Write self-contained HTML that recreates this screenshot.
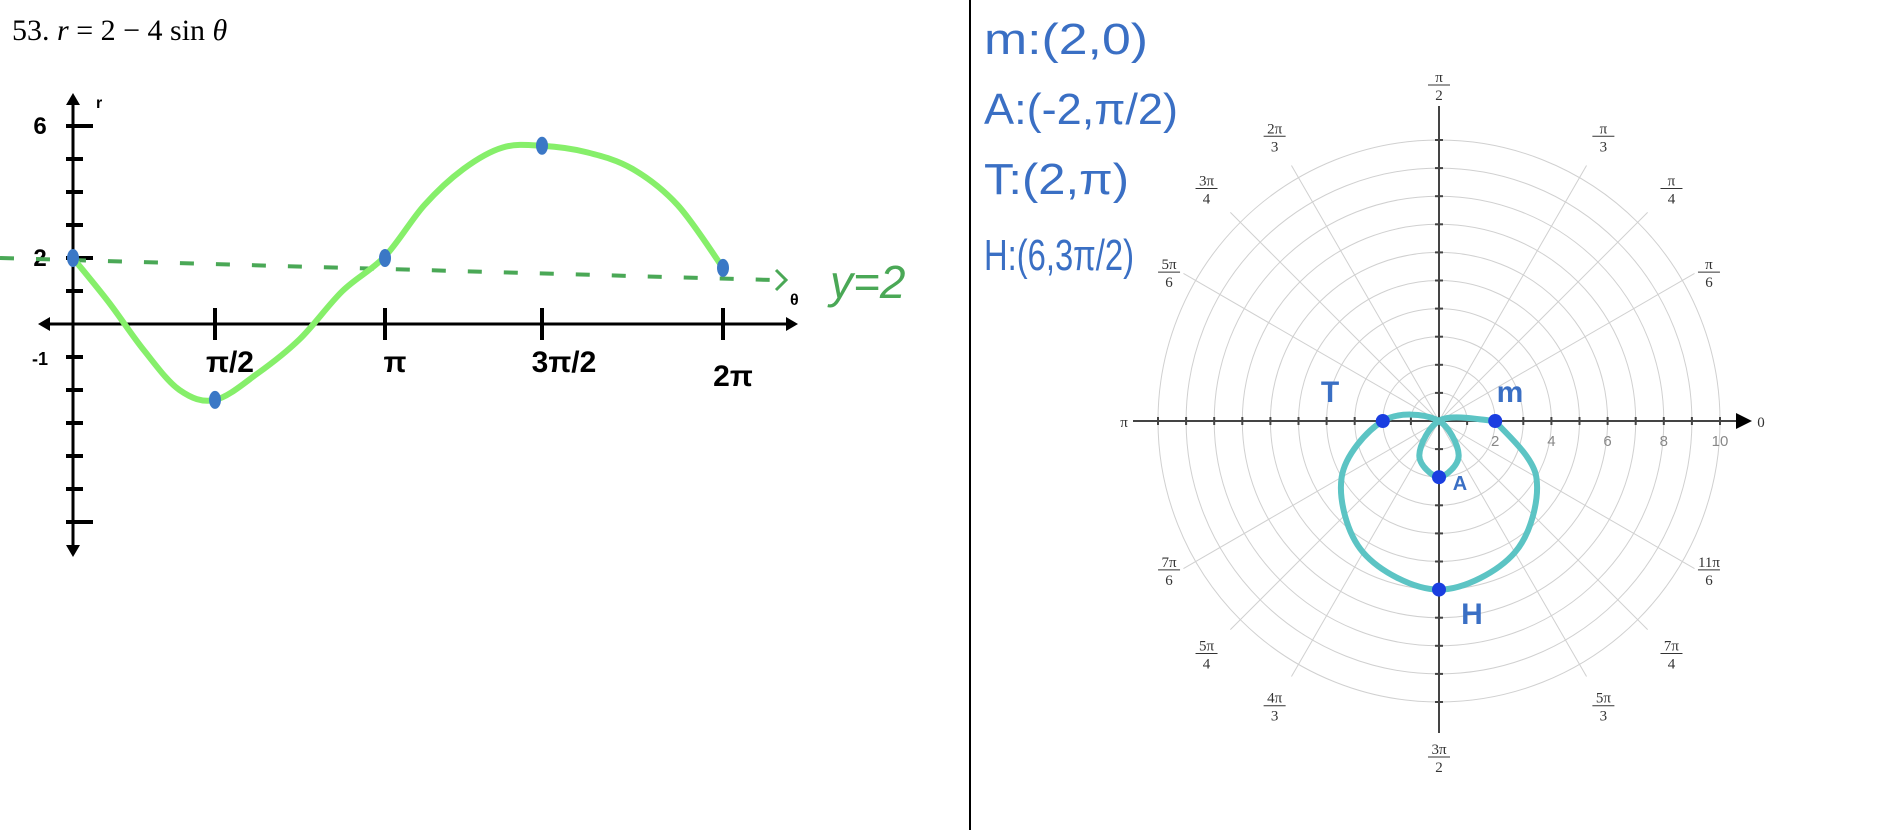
<!DOCTYPE html>
<html><head><meta charset="utf-8"><style>
html,body{margin:0;padding:0;background:#fff;}
svg{display:block;}
.hw{font-family:"Liberation Sans",sans-serif;font-weight:bold;}
.frac{font-family:"Liberation Serif",serif;font-size:15px;fill:#333;text-anchor:middle;}
</style></head><body>
<svg id="s" width="1896" height="830" viewBox="0 0 1896 830">
<g id="left"></g>
<g id="right"></g>
<line x1="970" y1="0" x2="970" y2="830" stroke="#000" stroke-width="2"/>
</svg>
<script>
// ---- Cartesian data (theta in units of pi) ----
const cartTheta = [0,0.125,0.25,0.375,0.5,0.625,0.75,0.875,1,1.125,1.25,1.375,1.5,1.625,1.75,1.875,2];
const cartR = [2,0.67,-0.8,-2.0,-2.3,-1.5,-0.45,1.0,2.05,3.6,4.7,5.35,5.4,5.2,4.7,3.6,1.7];
const keyTheta = [0,0.5,1,1.5,2];
const keyR = [2,-2.3,2,5.4,1.7];
const xTickVals = [0.5,1,1.5,2];
const xTickLabels = ["π/2","π","3π/2","2π"];
const yTickVals = [-6,-5,-4,-3,-2,-1,1,2,3,4,5,6];
// ---- Polar data (theta in units of pi) ----
const polTheta = [0,1/6,1/3,1/2,2/3,5/6,1,7/6,4/3,3/2,5/3,11/6,2];
const polR = [2,0.1,-1.4,-2,-1.4,0.1,2,4,5.4,6,5.4,4,2];
const polPointTheta = [0,0.5,1,1.5];
const polPointR = [2,-2,2,6];
const polPointNames = ["m","A","T","H"];
const spokeAngles = [1/6,1/4,1/3,2/3,3/4,5/6,7/6,5/4,4/3,5/3,7/4,11/6];
const spokeNum = ["π","π","π","2π","3π","5π","7π","5π","4π","5π","7π","11π"];
const spokeDen = ["6","4","3","3","4","6","6","4","3","3","4","6"];
const ringVals = [1,2,3,4,5,6,7,8,9,10];
const radialLabels = [2,4,6,8,10];

const NS="http://www.w3.org/2000/svg";
function mk(parent,tag,attrs,text){const e=document.createElementNS(NS,tag);for(const k in attrs)e.setAttribute(k,attrs[k]);if(text!==undefined)e.textContent=text;parent.appendChild(e);return e;}
function smooth(pts){let d="M"+pts[0][0]+","+pts[0][1];for(let i=0;i<pts.length-1;i++){const p0=pts[Math.max(i-1,0)],p1=pts[i],p2=pts[i+1],p3=pts[Math.min(i+2,pts.length-1)];d+=" C"+(p1[0]+(p2[0]-p0[0])/6)+","+(p1[1]+(p2[1]-p0[1])/6)+" "+(p2[0]-(p3[0]-p1[0])/6)+","+(p2[1]-(p3[1]-p1[1])/6)+" "+p2[0]+","+p2[1];}return d;}

// ---- Left chart ----
const L=document.getElementById('left');
// hand-drawn axis: piecewise-linear scale through the drawn tick marks
const xKnotT=[0,0.5,1,1.5,2], xKnotP=[73,215,385,542,723];
function X(t){for(let i=0;i<xKnotT.length-1;i++){if(t<=xKnotT[i+1]||i==xKnotT.length-2){const f=(t-xKnotT[i])/(xKnotT[i+1]-xKnotT[i]);return xKnotP[i]+f*(xKnotP[i+1]-xKnotP[i]);}}}
const y0=324, yUnit=33;
const Y=v=>y0-v*yUnit;
let e;
e=mk(L,'text',{x:12,y:40,style:'font-family:"Liberation Serif",serif;font-size:30px'});
e.innerHTML='53. <tspan font-style="italic">r</tspan> = 2 − 4 sin <tspan font-style="italic">θ</tspan>';

e=mk(L,'line',{x1:45,y1:y0,x2:790,y2:y0,stroke:'#000','stroke-width':3});

mk(L,'path',{d:`M38,${y0} l12,-7 v14z M798,${y0} l-12,-7 v14z`,fill:'#000'});
e=mk(L,'line',{x1:73,y1:100,x2:73,y2:550,stroke:'#000','stroke-width':3});

mk(L,'path',{d:`M73,93 l-7,12 h14z M73,557 l-7,-12 h14z`,fill:'#000'});
e=mk(L,'text',{x:96,y:108,'font-size':16,class:'hw'},'r');

e=mk(L,'text',{x:790,y:305,'font-size':16,class:'hw'},'θ');

yTickVals.forEach(v=>{e=mk(L,'line',{x1:66,y1:Y(v),x2:73+(Math.abs(v)==6||v==2?20:10),y2:Y(v),stroke:'#000','stroke-width':4});
});
[[6,"6"],[2,"2"],[-1,"-1"]].forEach(a=>{e=mk(L,'text',{x:40,y:Y(a[0])+8,'font-size':a[0]==-1?18:24,class:'hw','text-anchor':'middle'},a[1]);
});
xTickVals.forEach((t,i)=>{e=mk(L,'line',{x1:X(t),y1:y0-16,x2:X(t),y2:y0+16,stroke:'#000','stroke-width':4});

e=mk(L,'text',{x:X(t)+(i==0?15:i==2?22:10),y:y0+(i==3?62:48),'font-size':30,class:'hw','text-anchor':'middle'},xTickLabels[i]);
});
e=mk(L,'line',{x1:0,y1:Y(2),x2:772,y2:Y(2)+22,stroke:'#4aa856','stroke-width':4,'stroke-dasharray':'14 22'});

mk(L,'path',{d:`M776,${Y(2)+12} l10,10 l-10,10`,fill:'none',stroke:'#4aa856','stroke-width':3});
e=mk(L,'text',{x:830,y:298,'font-size':46,fill:'#4aa856','font-style':'italic',style:'font-family:"Liberation Sans",sans-serif'},'y=2');

e=mk(L,'path',{d:smooth(cartTheta.map((t,i)=>[X(t),Y(cartR[i])])),fill:'none',stroke:'#86ef6a','stroke-width':6,'stroke-linecap':'round'});

keyTheta.forEach((t,i)=>{e=mk(L,'ellipse',{cx:X(t),cy:Y(keyR[i]),rx:6,ry:9,fill:'#3b78c6'});
});

// ---- Right polar chart ----
const R=document.getElementById('right');
const cx=1439, cy=421, ru=28.1;
const PX=(r,t)=>cx+r*ru*Math.cos(t*Math.PI), PY=(r,t)=>cy-r*ru*Math.sin(t*Math.PI);
ringVals.forEach(v=>{e=mk(R,'circle',{cx:cx,cy:cy,r:v*ru,fill:'none',stroke:'#d0d0d0','stroke-width':1});
});
spokeAngles.forEach((a,i)=>{e=mk(R,'line',{x1:cx,y1:cy,x2:PX(10.5,a),y2:PY(10.5,a),stroke:'#d0d0d0','stroke-width':1});

const sixth=spokeDen[i]=="6";
const lr=sixth?10.6:11.7;
const lx=PX(lr,a)+(sixth?(Math.cos(a*Math.PI)>0?12:-12):0), ly=PY(lr,a);
const g=mk(R,'g',{});
mk(g,'text',{x:lx,y:ly-3,class:'frac'},spokeNum[i]);
mk(g,'line',{x1:lx-11,y1:ly,x2:lx+11,y2:ly,stroke:'#333','stroke-width':1});
mk(g,'text',{x:lx,y:ly+15,class:'frac'},spokeDen[i]);});
[[0.5,1439,85],[1.5,1439,757]].forEach(a=>{const g=mk(R,'g',{});
mk(g,'text',{x:a[1],y:a[2]-3,class:'frac'},a[0]==0.5?'π':'3π');mk(g,'line',{x1:a[1]-11,y1:a[2],x2:a[1]+11,y2:a[2],stroke:'#333'});mk(g,'text',{x:a[1],y:a[2]+15,class:'frac'},'2');});
e=mk(R,'text',{x:1124,y:427,class:'frac','font-size':20},'π');
e=mk(R,'text',{x:1761,y:427,class:'frac','font-size':18},'0');
e=mk(R,'line',{x1:1133,y1:cy,x2:1738,y2:cy,stroke:'#444','stroke-width':2});
mk(R,'path',{d:`M1752,${cy} l-16,-8 v16z`,fill:'#000'});
e=mk(R,'line',{x1:cx,y1:106,x2:cx,y2:733,stroke:'#444','stroke-width':2});
for(let k=-10;k<=10;k++){if(!k)continue;mk(R,'line',{x1:cx+k*ru,y1:cy-4,x2:cx+k*ru,y2:cy+4,stroke:'#444','stroke-width':2});mk(R,'line',{x1:cx-4,y1:cy+k*ru,x2:cx+4,y2:cy+k*ru,stroke:'#444','stroke-width':2});}
radialLabels.forEach(v=>{e=mk(R,'text',{x:cx+v*ru,y:cy+25,class:'frac','font-size':16,style:'fill:#888;font-family:"Liberation Sans",sans-serif'},String(v));
});
e=mk(R,'path',{d:smooth(polTheta.map((t,i)=>[PX(polR[i],t),PY(polR[i],t)])),fill:'none',stroke:'#5cc4c4','stroke-width':6,'stroke-linecap':'round'});

polPointTheta.forEach((t,i)=>{e=mk(R,'circle',{cx:PX(polPointR[i],t),cy:PY(polPointR[i],t),r:7,fill:'#1a3ee0'});
});
[["T",1330,402],["m",1510,402],["A",1460,490],["H",1472,624]].forEach(a=>{e=mk(R,'text',{x:a[1],y:a[2],'font-size':a[0]=="A"?20:30,class:'hw',fill:'#3a6fc4','text-anchor':'middle'},a[0]);
});
[["m:(2,0)",54,164],["A:(-2,π/2)",124,194],["T:(2,π)",194,145],["H:(6,3π/2)",270,150]].forEach(a=>{e=mk(R,'text',{x:984,y:a[1],'font-size':44,fill:'#3a6fc4',textLength:a[2],lengthAdjust:'spacingAndGlyphs',style:'font-family:"Liberation Sans",sans-serif'},a[0]);
});
</script>
</body></html>
